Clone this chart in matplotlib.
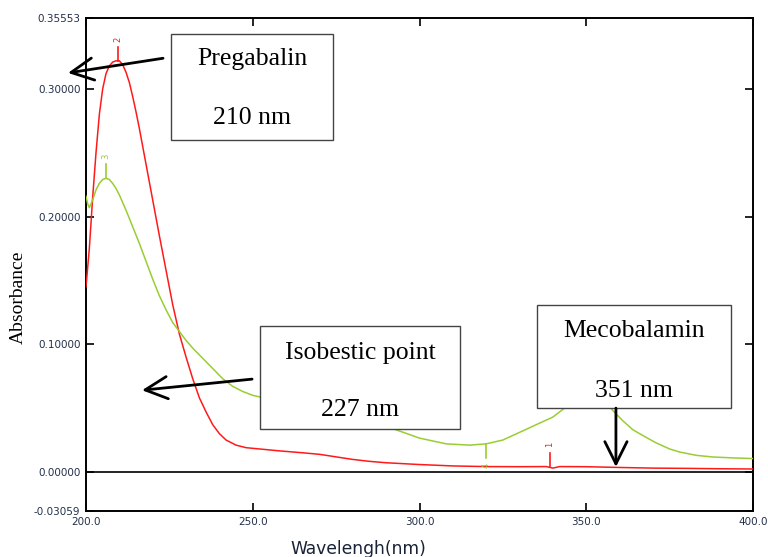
import numpy as np
import matplotlib
matplotlib.use('Agg')
import matplotlib.pyplot as plt
from matplotlib.patches import Rectangle

# Pregabalin spectrum (red)
red_wl = [200.0, 201.0, 202.0, 203.0, 204.0, 205.0, 206.0, 207.0, 208.0, 209.0,
          210.0, 211.0, 212.0, 213.0, 214.0, 215.0, 216.0, 217.0, 218.0, 220.0,
          222.0, 224.0, 226.0, 228.0, 230.0, 232.0, 234.0, 236.0, 238.0, 240.0,
          242.0, 245.0, 248.0, 252.0, 258.0, 265.0, 270.0, 275.0, 280.0, 285.0,
          290.0, 300.0, 310.0, 320.0, 330.0, 338.0, 340.0, 342.0, 350.0, 360.0,
          370.0, 380.0, 390.0, 400.0]
red_abs = [0.145, 0.175, 0.215, 0.250, 0.280, 0.300, 0.312, 0.318, 0.321, 0.322,
           0.322, 0.319, 0.313, 0.305, 0.294, 0.282, 0.269, 0.255, 0.241, 0.213,
           0.185, 0.158, 0.131, 0.108, 0.090, 0.073, 0.058, 0.047, 0.037, 0.030,
           0.025, 0.021, 0.019, 0.018, 0.0165, 0.015, 0.0138, 0.0118, 0.0098, 0.0083,
           0.0072, 0.0058, 0.0047, 0.0042, 0.0041, 0.0042, 0.003, 0.0042, 0.0041, 0.0035,
           0.003, 0.0028, 0.0025, 0.0023]

# Mecobalamin spectrum (green)
green_wl = [200.0, 200.5, 201.0, 202.0, 203.0, 204.0, 205.0, 206.0, 207.0, 208.0,
            209.0, 210.0, 212.0, 214.0, 216.0, 218.0, 220.0, 222.0, 224.0, 226.0,
            228.0, 230.0, 232.0, 235.0, 238.0, 241.0, 244.0, 247.0, 250.0, 255.0,
            260.0, 270.0, 280.0, 287.0, 293.0, 300.0, 308.0, 315.0, 320.0, 325.0,
            330.0, 335.0, 340.0, 344.0, 348.0, 351.0, 355.0, 358.0, 361.0, 364.0,
            368.0, 371.0, 375.0, 378.0, 383.0, 388.0, 394.0, 400.0]
green_abs = [0.216, 0.210, 0.207, 0.213, 0.221, 0.226, 0.229, 0.230, 0.229, 0.226,
             0.222, 0.217, 0.205, 0.192, 0.179, 0.165, 0.151, 0.138, 0.127, 0.117,
             0.110, 0.103, 0.097, 0.089, 0.081, 0.073, 0.067, 0.063, 0.060, 0.057,
             0.055, 0.052, 0.046, 0.040, 0.033, 0.0265, 0.022, 0.021, 0.022, 0.025,
             0.031, 0.037, 0.043, 0.051, 0.060, 0.064, 0.058, 0.048, 0.040, 0.033,
             0.027, 0.0227, 0.018, 0.0156, 0.013, 0.0117, 0.011, 0.0105]

# peak-pick markers: wavelength, absorbance, label, which curve, direction
pk_wl = [339.0, 209.6, 206.0, 320.0]
pk_abs = [0.0042, 0.322, 0.230, 0.022]
pk_lbl = ['1', '2', '3', '4']
pk_col = ['red', 'red', 'green', 'green']
pk_dir = [1, 1, 1, -1]

y_ticks = [-0.03059, 0.0, 0.1, 0.2, 0.3, 0.35553]
x_ticks = [200.0, 250.0, 300.0, 350.0, 400.0]

RED = '#ff1a1a'
GREEN = '#9acd32'
TICKCOL = '#22304a'

fig = plt.figure(figsize=(7.68, 5.57), dpi=100)
ax = fig.add_axes([86/768, 1-511/557, 667/768, 493/557])

ax.plot(red_wl, red_abs, color=RED, lw=1.1, zorder=3)
ax.plot(green_wl, green_abs, color=GREEN, lw=1.1, zorder=3)
ax.axhline(0, color='black', lw=1.2, zorder=2)

# little peak-pick ticks and numbers
for w, a, l, c, d in zip(pk_wl, pk_abs, pk_lbl, pk_col, pk_dir):
    col = RED if c == 'red' else GREEN
    ax.plot([w, w], [a, a + d*0.011], color=col, lw=1.2, zorder=3)
    ax.text(w, a + d*0.017, l, color=col, fontsize=6, rotation=90,
            ha='center', va='center', zorder=3)

ax.set_xlim(200, 400)
ax.set_ylim(-0.03059, 0.35553)
ax.set_xticks(x_ticks)
ax.set_xticklabels([f'{v:.1f}' for v in x_ticks])
ax.set_yticks(y_ticks)
ax.set_yticklabels([f'{v:.5f}' for v in y_ticks])
ax.tick_params(direction='in', length=6, width=1.2, top=True, right=True,
               labelsize=7.5, labelcolor=TICKCOL, pad=4)
for s in ax.spines.values():
    s.set_linewidth(1.4)

serif = 'Liberation Serif'

# annotation boxes: (x0, y0, x1, y1) in data units, two text lines
boxes = [((225.5, 0.260, 274.1, 0.343), 'Pregabalin', '210 nm', 0.3234, 0.2773),
         ((252.2, 0.034, 312.1, 0.114), 'Isobestic point', '227 nm', 0.093, 0.0484),
         ((335.2, 0.050, 393.4, 0.1305), 'Mecobalamin', '351 nm', 0.110, 0.0633)]
for (x0, y0, x1, y1), t1, t2, ty1, ty2 in boxes:
    ax.add_patch(Rectangle((x0, y0), x1 - x0, y1 - y0, facecolor='white',
                           edgecolor='#444444', lw=1.0, zorder=5, clip_on=False))
    xc = (x0 + x1) / 2
    ax.text(xc, ty1, t1, family=serif, fontsize=18.5, ha='center', va='center', zorder=6)
    ax.text(xc, ty2, t2, family=serif, fontsize=18.5, ha='center', va='center', zorder=6)

arrows = [((194.6, 0.3125), (223.1, 0.324)),
          ((216.8, 0.064), (249.8, 0.0727)),
          ((358.9, 0.0039), (358.9, 0.050))]
for head, tail in arrows:
    ax.annotate('', xy=head, xytext=tail, annotation_clip=False,
                arrowprops=dict(arrowstyle='->,head_length=0.8,head_width=0.4',
                                color='black', lw=2.0, mutation_scale=20,
                                shrinkA=0, shrinkB=0), zorder=7)

fig.text(18/768, 1-297/557, 'Absorbance', family=serif, fontsize=14,
         rotation=90, ha='center', va='center')
fig.text(358/768, 1-549/557, 'Wavelengh(nm)', fontsize=12.3, color='#1a2238',
         ha='center', va='center')

fig.savefig('out.png', dpi=100)
